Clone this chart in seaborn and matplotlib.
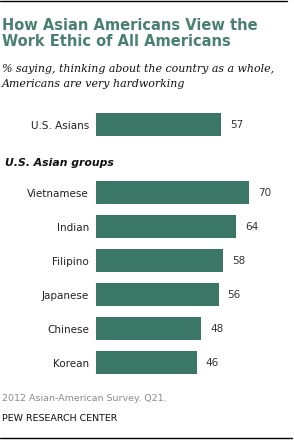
import pandas as pd
import matplotlib
matplotlib.use("Agg")
import matplotlib.pyplot as plt
import seaborn as sns
from matplotlib.lines import Line2D

# ------------- Data -------------
overall_label = ["U.S. Asians"]
overall_value = [57]
group_labels = ["Vietnamese", "Indian", "Filipino", "Japanese", "Chinese", "Korean"]
group_values = [70, 64, 58, 56, 48, 46]

BAR = "#3a7767"
W, H = 294, 440

df = pd.DataFrame({
    "group": overall_label + group_labels,
    "value": overall_value + group_values,
})
# blank slot between overall and groups holds the sub-header
order = overall_label + [" "] + group_labels

# ------------- Plot -------------
sns.set_theme(style="white")
plt.rcParams["font.family"] = ["DejaVu Sans"]
fig = plt.figure(figsize=(W / 100, H / 100), dpi=100)

ax = fig.add_axes([96 / W, 1 - 379.5 / H, 175 / W, 272 / H])
sns.barplot(data=df, x="value", y="group", order=order, color=BAR,
            saturation=1, width=0.68, linewidth=0, edgecolor=BAR, ax=ax)
ax.set_xlim(0, 80)
ax.set_ylim(7.5, -0.5)
ax.set_xlabel("")
ax.set_ylabel("")
ax.set_xticks([])
ax.tick_params(axis="y", length=0, pad=5, labelsize=7.5, labelcolor="#222222")
sns.despine(ax=ax, left=True, bottom=True)
for c in ax.containers:
    ax.bar_label(c, padding=6.5, fontsize=7.5, color="#333333")

# ------------- Text -------------
def px(y):
    return 1 - y / H

title_col = "#4a8070"
fig.text(2 / W, px(30), "How Asian Americans View the", fontsize=10.5,
         fontweight="bold", color=title_col, va="baseline")
fig.text(2 / W, px(46), "Work Ethic of All Americans", fontsize=10.5,
         fontweight="bold", color=title_col, va="baseline")
fig.text(2 / W, px(72), "% saying, thinking about the country as a whole,",
         fontsize=7.9, style="italic", family="DejaVu Serif", color="#111111", va="baseline")
fig.text(2 / W, px(87), "Americans are very hardworking",
         fontsize=7.9, style="italic", family="DejaVu Serif", color="#111111", va="baseline")
fig.text(5 / W, px(166), "U.S. Asian groups", fontsize=7.8, fontweight="bold",
         style="italic", color="#111111", va="baseline")
fig.text(2 / W, px(401), "2012 Asian-American Survey. Q21.", fontsize=6.8,
         color="#8a8a8a", va="baseline")
fig.text(2 / W, px(421), "PEW RESEARCH CENTER", fontsize=6.8,
         color="#111111", va="baseline")

fig.add_artist(Line2D([0, 287 / W], [px(1.5), px(1.5)], color="black", lw=1))
fig.add_artist(Line2D([0, 292 / W], [px(438), px(438)], color="black", lw=1))

plt.savefig("out.png", dpi=100)
